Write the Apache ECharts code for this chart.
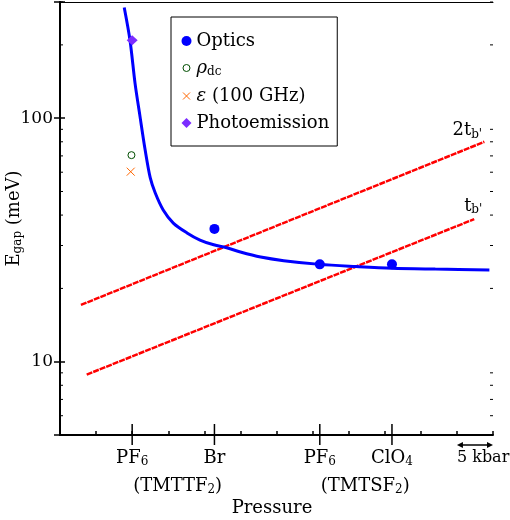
<!DOCTYPE html>
<html><head><meta charset="utf-8">
<script src="https://cdn.jsdelivr.net/npm/echarts@6/dist/echarts.min.js"></script>
<style>html,body{margin:0;padding:0;background:#fff}#c{width:510px;height:520px}</style>
</head><body><div id="c"></div>
<script>
// ---------- data ----------
// x = pressure (kbar, relative scale), y = E_gap (meV)
const fitCurve = [[8.9,285],[9.7,209],[10.4,139],[11.1,101],[11.8,74],[12.5,57],[13.2,49.3],[14.3,42],[15.7,37.1],[17.6,33.8],[19.4,31.6],[21.3,30.2],[23.2,29.3],[25,28.2],[27.8,26.9],[31,26],[36,25.1],[41,24.6],[46,24.2],[52,24],[59.5,23.8]];
const twoTb = [[2.9,17.1],[58.8,80]];
const tb = [[3.7,8.85],[57.4,38.5]];
const optics = [[21.4,35.1],[36,25.1],[46,25.1]];
const rhoDc = [[9.9,70.5]];
const eps100 = [[9.8,60.3]];
const photoemission = [[10,209]];
const categoryPos = [10, 21.4, 36, 46];
const categoryNames = ['PF{6}', 'Br', 'PF{6}', 'ClO{4}'];
const saltNames = ['(TMTTF{2})', '', '(TMTSF{2})', ''];
const scaleBar = [[55, 60]];
const scaleBarLabel = '5 kbar';
const yMajorLabels = [10, 100];
const yMinorTicks = [6,7,8,9,20,30,40,50,60,70,80,90,200,300];
const X_MIN = 0, X_MAX = 60, Y_MIN = 5, Y_MAX = 300;

// ---------- styles ----------
const FONT = '"DejaVu Serif", serif';
const RICH = {
  m: {fontFamily: FONT, fontSize: 18, lineHeight: 20, color: '#000'},
  i: {fontFamily: FONT, fontSize: 18, lineHeight: 20, fontStyle: 'italic', color: '#000'},
  s: {fontFamily: FONT, fontSize: 12, lineHeight: 8, verticalAlign: 'bottom', color: '#000'},
  k: {fontFamily: FONT, fontSize: 16, lineHeight: 20, color: '#000'}
};
function rich(str) {
  return str.split(/(\{[^}]*\})/).filter(p => p.length).map(p =>
    p[0] === '{' ? '{s|' + p.slice(1, -1) + '}' : '{m|' + p + '}').join('');
}
const legendText = {
  'Optics': '{m|Optics}',
  'ρdc': '{i|ρ}{s|dc}',
  'ε (100 GHz)': '{i|ε}{m| (100 GHz)}',
  'Photoemission': '{m|Photoemission}'
};

const chart = echarts.init(document.getElementById('c'), null, {renderer: 'canvas'});

function renderCats(params, api) {
  const i = params.dataIndex;
  const p = api.coord([api.value(0), Y_MIN]);
  const ch = [
    {type: 'line', shape: {x1: p[0], y1: p[1] - 11, x2: p[0], y2: p[1] + 10}, style: {stroke: '#000', lineWidth: 1.5}},
    {type: 'text', x: p[0], y: p[1] + 13, style: {text: rich(categoryNames[i]), rich: RICH, align: 'center', verticalAlign: 'top'}}
  ];
  if (saltNames[i]) ch.push({type: 'text', x: p[0] + 1, y: p[1] + 41, style: {text: rich(saltNames[i]), rich: RICH, align: 'left', verticalAlign: 'top'}});
  return {type: 'group', children: ch};
}
function renderScale(params, api) {
  const a = api.coord([api.value(0), Y_MIN]);
  const b = api.coord([api.value(1), Y_MIN]);
  const y = a[1] + 10;
  return {type: 'group', children: [
    {type: 'line', shape: {x1: a[0] + 2, y1: y, x2: b[0] - 2, y2: y}, style: {stroke: '#000', lineWidth: 1.5}},
    {type: 'polygon', shape: {points: [[a[0], y], [a[0] + 6, y - 3], [a[0] + 6, y + 3]]}, style: {fill: '#000'}},
    {type: 'polygon', shape: {points: [[b[0], y], [b[0] - 6, y - 3], [b[0] - 6, y + 3]]}, style: {fill: '#000'}},
    {type: 'text', x: a[0], y: a[1] + 13, style: {text: '{k|' + scaleBarLabel + '}', rich: RICH, align: 'left', verticalAlign: 'top'}}
  ]};
}
function renderMinorY(params, api) {
  const v = api.value(1);
  const l = api.coord([X_MIN, v]);
  const r = api.coord([X_MAX, v]);
  return {type: 'group', children: [
    {type: 'line', shape: {x1: l[0], y1: l[1], x2: l[0] + 3, y2: l[1]}, style: {stroke: '#000', lineWidth: 1}},
    {type: 'line', shape: {x1: r[0] - 3, y1: r[1], x2: r[0], y2: r[1]}, style: {stroke: '#000', lineWidth: 1}}
  ]};
}

const axisLineStyle = {color: '#000', width: 2};
chart.setOption({
  animation: false,
  backgroundColor: '#fff',
  grid: {left: 60, right: 17, top: 2, bottom: 85, containLabel: false, outerBoundsMode: 'none'},
  legend: {
    orient: 'vertical', left: 171, top: 17,
    padding: [15, 8, 14, 10],
    itemWidth: 10, itemHeight: 10, itemGap: 9,
    borderColor: '#000', borderWidth: 1,
    selectedMode: false,
    data: [
      {name: 'Optics', icon: 'circle'},
      {name: 'ρdc', icon: 'path://M0 0M10 10M5 1.5A3.5 3.5 0 1 1 4.99 1.5Z'},
      {name: 'ε (100 GHz)', icon: 'path://M0 0M10 10M1.5 1.5L8.5 8.5M8.5 1.5L1.5 8.5'},
      {name: 'Photoemission', icon: 'diamond'}
    ],
    itemStyle: {borderWidth: 1},
    formatter: n => legendText[n],
    textStyle: {rich: RICH}
  },
  xAxis: [
    {type: 'value', min: X_MIN, max: X_MAX, interval: 5, position: 'bottom',
     axisLine: {lineStyle: axisLineStyle},
     axisTick: {inside: true, length: 4, lineStyle: {color: '#000', width: 1.5}},
     axisLabel: {show: false}, splitLine: {show: false},
     name: 'Pressure', nameLocation: 'middle', nameGap: 64, nameMoveOverlap: false,
     nameTextStyle: {fontFamily: FONT, fontSize: 18, color: '#000', padding: [0, 9, 0, 0]}},
    {type: 'value', min: X_MIN, max: X_MAX, position: 'top',
     axisLine: {lineStyle: {color: '#000', width: 1}}, axisTick: {show: false},
     axisLabel: {show: false}, splitLine: {show: false}}
  ],
  yAxis: [
    {type: 'log', logBase: 10, min: Y_MIN, max: Y_MAX, position: 'left',
     axisLine: {lineStyle: axisLineStyle},
     axisTick: {inside: true, length: 5, lineStyle: {color: '#000', width: 1.5}},
     axisLabel: {margin: 7, fontFamily: FONT, fontSize: 17, color: '#000',
       formatter: v => yMajorLabels.indexOf(Math.round(v)) >= 0 ? String(Math.round(v)) : ''},
     splitLine: {show: false},
     name: '{m|E}{s|gap}{m| (meV)}', nameLocation: 'middle', nameRotate: 90, nameGap: 36, nameMoveOverlap: false,
     nameTextStyle: {rich: RICH}},
    {type: 'log', logBase: 10, min: Y_MIN, max: Y_MAX, position: 'right',
     axisLine: {lineStyle: axisLineStyle},
     axisTick: {inside: true, length: 6, lineStyle: {color: '#000', width: 1.5}},
     axisLabel: {show: false}, splitLine: {show: false}}
  ],
  series: [
    {type: 'custom', name: 'cats', renderItem: renderCats, clip: false, silent: true,
     data: categoryPos.map(v => [v, Y_MIN]), encode: {x: 0, y: 1}, z: 5},
    {type: 'custom', name: 'scale', renderItem: renderScale, clip: false, silent: true,
     data: scaleBar, encode: {x: [0, 1]}, z: 5},
    {type: 'custom', name: 'minorY', renderItem: renderMinorY, clip: false, silent: true,
     data: yMinorTicks.map(v => [X_MIN, v]), encode: {x: 0, y: 1}, z: 5},
    {type: 'line', name: 'fit', data: fitCurve, smooth: 0.3, showSymbol: false,
     lineStyle: {color: '#0000ff', width: 3}, itemStyle: {color: '#0000ff'}, z: 3},
    {type: 'line', name: '2tb', showSymbol: true, symbolSize: 0,
     data: twoTb.map((d, k) => k === twoTb.length - 1 ? {value: d, label: {show: true, position: 'top', distance: 1, offset: [-17, 0], formatter: "{m|2t}{s|b'}", rich: RICH}} : d),
     lineStyle: {color: '#ff0000', width: 2.5, type: [6, 1]}, itemStyle: {color: '#ff0000'}, z: 2},
    {type: 'line', name: 'tb', showSymbol: true, symbolSize: 0,
     data: tb.map((d, k) => k === tb.length - 1 ? {value: d, label: {show: true, position: 'top', distance: 3, offset: [-1, 0], formatter: "{m|t}{s|b'}", rich: RICH}} : d),
     lineStyle: {color: '#ff0000', width: 2.5, type: [6, 1]}, itemStyle: {color: '#ff0000'}, z: 2},
    {type: 'scatter', name: 'Optics', data: optics, symbol: 'circle', symbolSize: 10,
     itemStyle: {color: '#0000ff', opacity: 1}, z: 4},
    {type: 'scatter', name: 'ρdc', data: rhoDc, symbol: 'circle', symbolSize: 7,
     itemStyle: {color: '#ffffff', borderColor: '#004d00', borderWidth: 1, opacity: 1}, z: 4},
    {type: 'scatter', name: 'ε (100 GHz)', data: eps100, symbol: 'path://M0 0L10 10M10 0L0 10', symbolSize: 8,
     itemStyle: {color: '#ff6600', borderColor: '#ff6600', borderWidth: 1, opacity: 1}, z: 4},
    {type: 'scatter', name: 'Photoemission', data: photoemission, symbol: 'diamond', symbolSize: [11, 10],
     itemStyle: {color: '#7b2cff', opacity: 1}, z: 4}
  ]
});
</script></body></html>
